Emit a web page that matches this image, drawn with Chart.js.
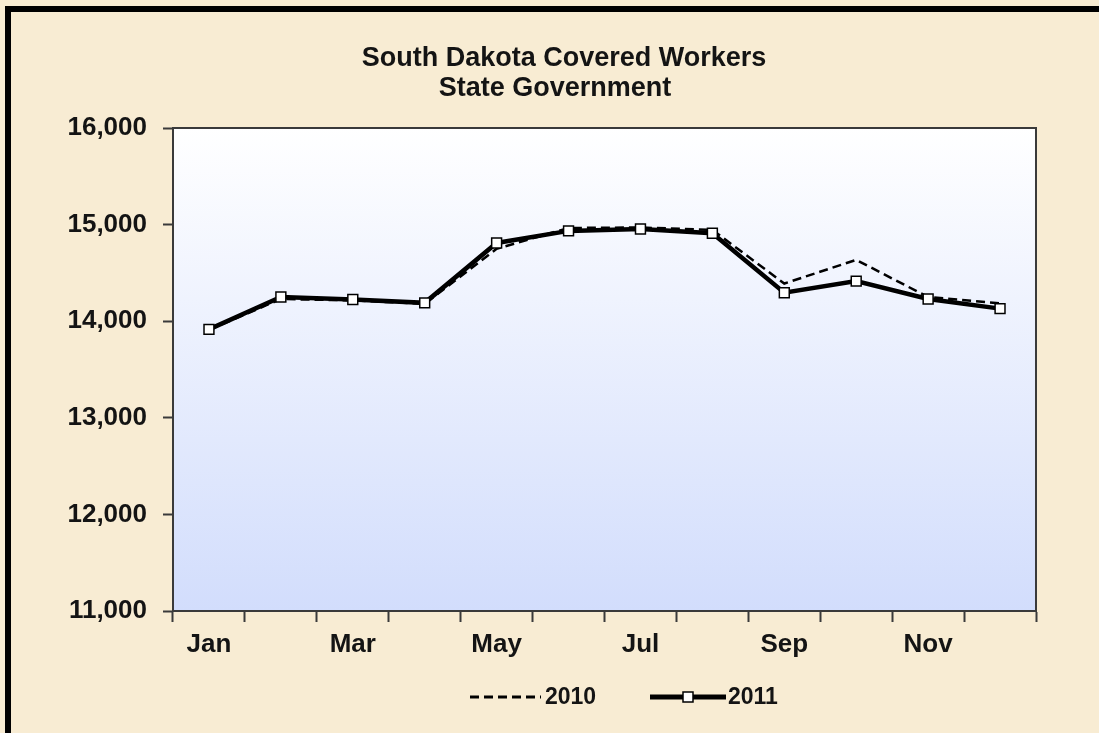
<!DOCTYPE html>
<html>
<head>
<meta charset="utf-8">
<title>South Dakota Covered Workers - State Government</title>
<script src="https://cdn.jsdelivr.net/npm/chart.js@4.4.1/dist/chart.umd.min.js"></script>
<style>
  html, body { margin: 0; padding: 0; background: #F8ECD3; overflow: hidden; }
  #chart { display: block; }
</style>
</head>
<body>
<canvas id="chart" width="1099" height="733"></canvas>
<script>
// Chart data
const titleLines = ["South Dakota Covered Workers", "State Government"];
const months = ["Jan", "Feb", "Mar", "Apr", "May", "Jun", "Jul", "Aug", "Sep", "Oct", "Nov", "Dec"];
const monthTickLabels = ["Jan", "", "Mar", "", "May", "", "Jul", "", "Sep", "", "Nov", ""];
const workers2010 = [13910, 14230, 14215, 14180, 14750, 14965, 14970, 14945, 14390, 14635, 14250, 14185];
const workers2011 = [13915, 14250, 14225, 14190, 14810, 14935, 14955, 14910, 14295, 14415, 14230, 14130];
const seriesNames = ["2010", "2011"];
const yMin = 11000, yMax = 16000, yStep = 1000;

const fontFamily = "'Liberation Sans', Arial, sans-serif";
const textColor = "#141414";

// Background, frame, plot gradient, plot border, title and legend
const decorPlugin = {
    id: "decor",
    beforeDraw(chart) {
        const ctx = chart.ctx;
        const a = chart.chartArea;
        ctx.save();
        ctx.fillStyle = "#F8ECD3";
        ctx.fillRect(0, 0, chart.width, chart.height);
        // black frame (top and left visible)
        ctx.fillStyle = "#000";
        ctx.fillRect(5, 6, chart.width - 5, 6);
        ctx.fillRect(5, 6, 6, chart.height - 6);
        // plot area gradient
        const g = ctx.createLinearGradient(0, a.top, 0, a.bottom);
        g.addColorStop(0, "#FFFFFF");
        g.addColorStop(1, "#D2DDFC");
        ctx.fillStyle = g;
        ctx.fillRect(a.left, a.top, a.right - a.left, a.bottom - a.top);
        ctx.restore();
    },
    beforeDatasetsDraw(chart) {
        const ctx = chart.ctx;
        const a = chart.chartArea;
        ctx.save();
        ctx.strokeStyle = "#3A3A3A";
        ctx.lineWidth = 2;
        ctx.strokeRect(a.left, a.top, a.right - a.left, a.bottom - a.top);
        ctx.restore();
    },
    afterDraw(chart) {
        const ctx = chart.ctx;
        ctx.save();
        ctx.fillStyle = textColor;
        ctx.textAlign = "center";
        ctx.textBaseline = "middle";
        ctx.font = "bold 27px " + fontFamily;
        ctx.fillText(titleLines[0], 564, 59);
        ctx.fillText(titleLines[1], 555, 89);

        // legend
        const ly = 697;
        ctx.font = "bold 23px " + fontFamily;
        ctx.textAlign = "left";
        ctx.strokeStyle = "#000";
        ctx.lineWidth = 3;
        ctx.setLineDash([9, 5]);
        ctx.beginPath();
        ctx.moveTo(470, ly);
        ctx.lineTo(541, ly);
        ctx.stroke();
        ctx.setLineDash([]);
        ctx.fillText(seriesNames[0], 545, ly + 1);

        ctx.lineWidth = 5;
        ctx.beginPath();
        ctx.moveTo(650, ly);
        ctx.lineTo(726, ly);
        ctx.stroke();
        ctx.fillStyle = "#fff";
        ctx.lineWidth = 1.5;
        ctx.fillRect(683, ly - 5, 10, 10);
        ctx.strokeRect(683, ly - 5, 10, 10);
        ctx.fillStyle = textColor;
        ctx.fillText(seriesNames[1], 728, ly + 1);
        ctx.restore();
    }
};

new Chart(document.getElementById("chart"), {
    type: "line",
    data: {
        labels: months,
        datasets: [
            {
                label: seriesNames[0],
                data: workers2010,
                borderColor: "#000",
                borderWidth: 2.5,
                borderDash: [9, 5],
                pointRadius: 0,
                tension: 0,
                order: 1
            },
            {
                label: seriesNames[1],
                data: workers2011,
                borderColor: "#000",
                borderWidth: 4.5,
                pointStyle: "rect",
                pointRadius: 7,
                pointBorderWidth: 1.5,
                pointBackgroundColor: "#fff",
                pointBorderColor: "#000",
                tension: 0,
                order: 0
            }
        ]
    },
    options: {
        responsive: false,
        animation: false,
        devicePixelRatio: 1,
        layout: { padding: { top: 128, right: 63, bottom: 0, left: 0 } },
        plugins: {
            legend: { display: false },
            title: { display: false },
            tooltip: { enabled: false }
        },
        scales: {
            x: {
                type: "category",
                offset: true,
                afterFit(scale) { scale.height = 122; },
                grid: {
                    offset: true,
                    drawOnChartArea: false,
                    drawTicks: true,
                    tickLength: 11,
                    tickWidth: 2,
                    tickColor: "#3A3A3A"
                },
                border: { display: true, color: "#3A3A3A", width: 2 },
                ticks: {
                    autoSkip: false,
                    maxRotation: 0,
                    padding: 7,
                    color: textColor,
                    font: { family: fontFamily, size: 26, weight: "bold" },
                    callback: (v, i) => monthTickLabels[i]
                }
            },
            y: {
                min: yMin,
                max: yMax,
                afterFit(scale) { scale.width = 173; },
                grid: {
                    drawOnChartArea: false,
                    drawTicks: true,
                    tickLength: 10,
                    tickWidth: 2,
                    tickColor: "#3A3A3A"
                },
                border: { display: true, color: "#3A3A3A", width: 2 },
                ticks: {
                    stepSize: yStep,
                    padding: 16,
                    color: textColor,
                    font: { family: fontFamily, size: 26, weight: "bold" },
                    callback: v => v.toLocaleString("en-US")
                }
            }
        }
    },
    plugins: [decorPlugin]
});
</script>
</body>
</html>
